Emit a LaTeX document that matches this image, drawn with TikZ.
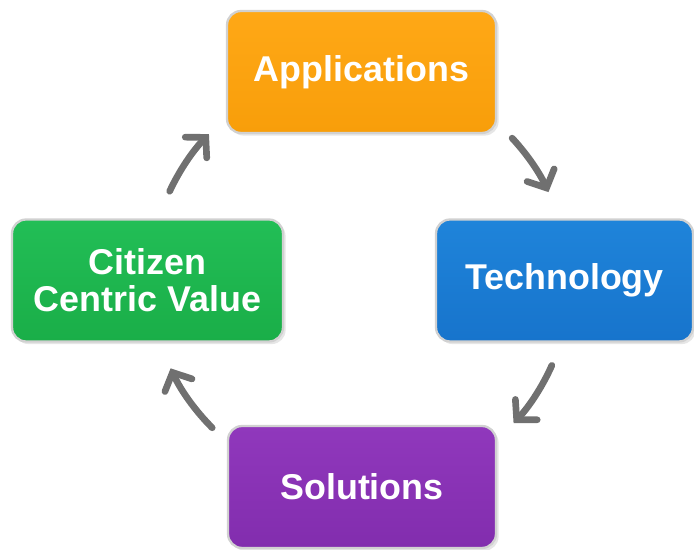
\documentclass[tikz,border=0pt]{standalone}
\usepackage{fontspec}
\setmainfont{Liberation Sans}
\usetikzlibrary{arrows.meta,calc,shadows}

\definecolor{apptop}{HTML}{FFA816}
\definecolor{appbot}{HTML}{F89E0A}
\definecolor{techtop}{HTML}{1F84DA}
\definecolor{techbot}{HTML}{1774CC}
\definecolor{cittop}{HTML}{22BE56}
\definecolor{citbot}{HTML}{1AAE48}
\definecolor{soltop}{HTML}{9038BC}
\definecolor{solbot}{HTML}{822DAE}
\definecolor{arrowgray}{HTML}{707070}

\tikzset{
  box/.style={draw=black!18, line width=1.3pt, rounded corners=8pt,
    minimum height=2.44cm, text=white, align=center,
    font=\bfseries\fontsize{20.4}{21}\selectfont,
    drop shadow={opacity=0.2, shadow xshift=1.5pt, shadow yshift=-1.5pt}},
  cyc/.style={draw=arrowgray, line width=3.8pt, line cap=round,
    -{Straight Barb[length=8pt,width=17pt,line cap=round]}}
}

\begin{document}
\begin{tikzpicture}[x=0.02cm, y=0.02cm]
  \useasboundingbox (0,0) rectangle (694,550);

  % the four boxes
  \node (app)  [box, minimum width=5.38cm, top color=apptop, bottom color=appbot]  at (361.5,478) {Applications};
  \node (tech) [box, minimum width=5.14cm, top color=techtop, bottom color=techbot] at (564.5,269.5) {Technology};
  \node (sol)  [box, minimum width=5.36cm, top color=soltop, bottom color=solbot]  at (362,63)      {Solutions};
  \node (cit)  [box, minimum width=5.42cm, top color=cittop, bottom color=citbot]  at (147.5,269.5) {Citizen\\Centric Value};

  % cycle arrows
  \coordinate (mid) at (360,270);
  \coordinate (ca) at ($(mid)+(155:210)$);
  \coordinate (at) at ($(mid)+(43:208)$);
  \coordinate (ts) at ($(mid)+(-24:210)$);
  \coordinate (sc) at ($(mid)+(-135:209)$);

  \draw [cyc] (ca) arc[start angle=155, end angle=136, radius=210];
  \draw [cyc] (at) arc[start angle=43, end angle=25, radius=208];
  \draw [cyc] (ts) arc[start angle=-24, end angle=-43, radius=210];
  \draw [cyc] (sc) arc[start angle=-135, end angle=-155, radius=209];
\end{tikzpicture}
\end{document}
